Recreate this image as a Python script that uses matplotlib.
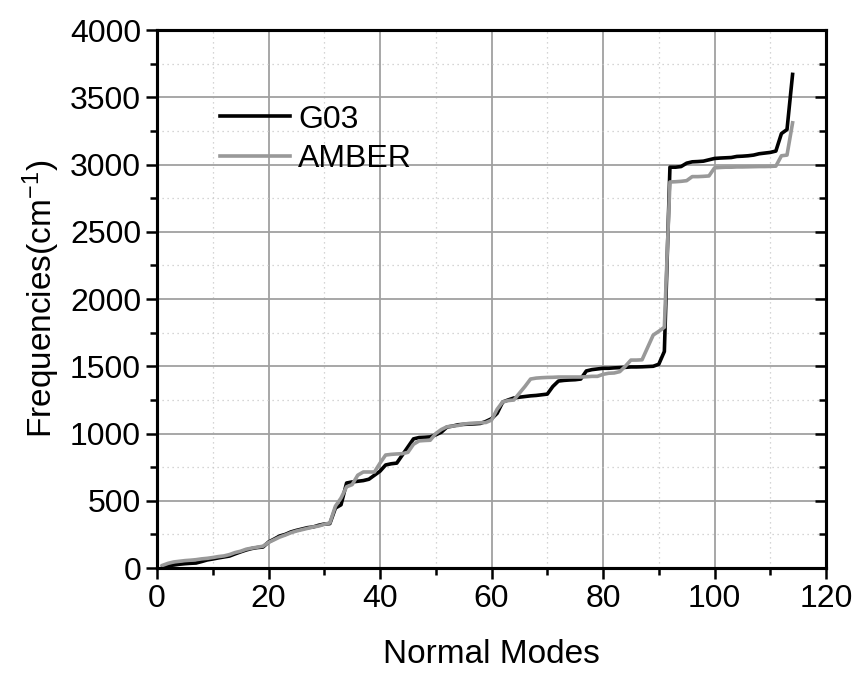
import matplotlib
matplotlib.use("Agg")
import matplotlib.pyplot as plt
import numpy as np
from matplotlib.ticker import MultipleLocator

# vibrational frequencies (cm^-1) per normal mode
modes = np.arange(1, 115)

g03 = [
    10, 18, 22, 28, 32, 35, 37, 48, 60, 67,
    75, 82, 89, 105, 120, 134, 145, 152, 156, 193,
    215, 238, 250, 268, 280, 290, 300, 305, 318, 327,
    330, 446, 470, 632, 640, 645, 650, 660, 690, 720,
    766, 775, 780, 840, 900, 960, 970, 972, 975, 990,
    1010, 1048, 1055, 1065, 1068, 1070, 1072, 1075, 1090, 1110,
    1150, 1234, 1250, 1264, 1270, 1275, 1280, 1283, 1288, 1293,
    1350, 1390, 1395, 1398, 1400, 1405, 1465, 1475, 1480, 1485,
    1485, 1488, 1490, 1492, 1495, 1495, 1496, 1498, 1500, 1515,
    1610, 2980, 2980, 2985, 3010, 3020, 3022, 3025, 3035, 3045,
    3048, 3050, 3052, 3060, 3062, 3065, 3070, 3080, 3085, 3090,
    3100, 3230, 3260, 3670,
]

amber = [
    20, 35, 45, 50, 55, 58, 62, 68, 72, 78,
    85, 90, 100, 115, 125, 140, 148, 155, 162, 190,
    210, 230, 245, 262, 275, 285, 295, 305, 312, 325,
    335, 460, 520, 604, 620, 690, 714, 714, 714, 780,
    840, 845, 848, 850, 860, 920, 945, 948, 950, 1000,
    1030, 1050, 1055, 1060, 1070, 1075, 1078, 1080, 1082, 1100,
    1180, 1235, 1245, 1249, 1300, 1350, 1405, 1412, 1415, 1417,
    1418, 1420, 1420, 1420, 1420, 1420, 1422, 1425, 1425, 1440,
    1448, 1450, 1460, 1500, 1546, 1546, 1548, 1640, 1732, 1760,
    1790, 2870, 2872, 2875, 2880, 2910, 2910, 2912, 2915, 2975,
    2978, 2980, 2980, 2982, 2982, 2983, 2984, 2985, 2985, 2986,
    2988, 3065, 3070, 3310,
]

plt.rcParams["font.family"] = ["Liberation Sans", "DejaVu Sans"]
plt.rcParams["mathtext.default"] = "regular"

fig = plt.figure(figsize=(8.6, 6.73), dpi=100)
ax = fig.add_axes([0.1826, 0.156, 0.7779, 0.7994])

ax.plot(modes, g03, color="black", lw=2.6, label="G03", zorder=3)
ax.plot(modes, amber, color="#999999", lw=2.6, label="AMBER", zorder=3)

ax.set_xlim(0, 120)
ax.set_ylim(0, 4000)
ax.xaxis.set_major_locator(MultipleLocator(20))
ax.xaxis.set_minor_locator(MultipleLocator(10))
ax.yaxis.set_major_locator(MultipleLocator(500))
ax.yaxis.set_minor_locator(MultipleLocator(250))

ax.grid(which="major", color="#a0a0a0", lw=1.3, ls="-", zorder=0)
ax.grid(which="minor", color="#c8c8c8", lw=0.9, ls=(0, (1, 3)), zorder=0)
ax.set_axisbelow(True)

for s in ax.spines.values():
    s.set_linewidth(2.2)

ax.tick_params(which="both", direction="out", width=1.8, labelsize=23,
               top=False, right=False)
ax.tick_params(which="major", length=8)
ax.tick_params(which="minor", length=5)

# inward ticks on the right side
ax2 = ax.twinx()
ax2.set_ylim(ax.get_ylim())
ax2.yaxis.set_major_locator(MultipleLocator(500))
ax2.yaxis.set_minor_locator(MultipleLocator(250))
ax2.tick_params(which="both", direction="in", width=1.8, labelright=False)
ax2.tick_params(which="major", length=8)
ax2.tick_params(which="minor", length=5)
for s in ax2.spines.values():
    s.set_linewidth(2.2)

ax.set_xlabel("Normal Modes", fontsize=24, labelpad=18)
ax.set_ylabel("Frequencies(cm$^{-1}$)", fontsize=24, labelpad=6)

ax.legend(loc="upper left", bbox_to_anchor=(0.075, 0.885), frameon=False,
          fontsize=23, handlelength=2.2, handletextpad=0.25, labelspacing=0.3,
          borderaxespad=0)

fig.savefig("out.png", dpi=100)
plt.close(fig)
